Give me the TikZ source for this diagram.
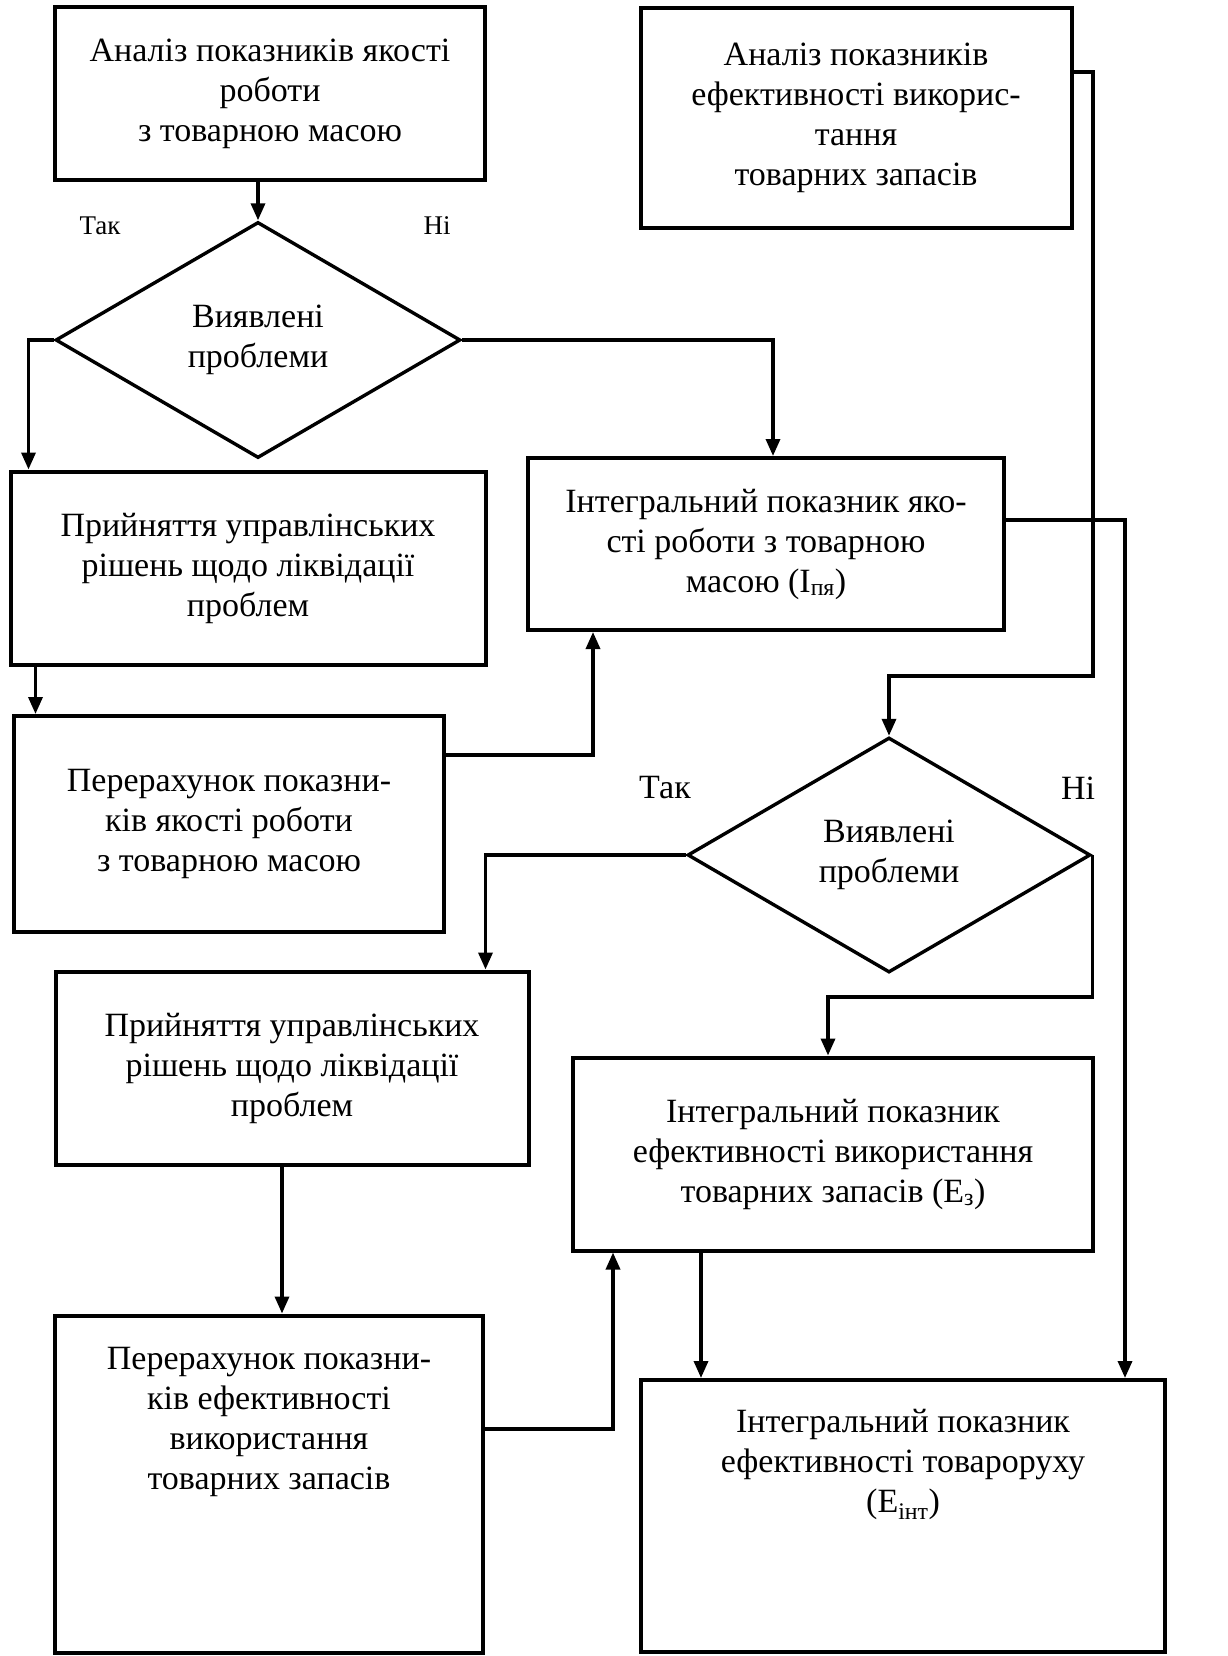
\documentclass[tikz,border=0pt]{standalone}
\usepackage{fontspec}
\setmainfont{Liberation Serif}
\usetikzlibrary{positioning,calc,shapes.geometric,arrows.meta}

\begin{document}
\begin{tikzpicture}[x=1pt,y=-1pt]
    \tikzstyle{every node}=[font=\fontsize{34}{40}\selectfont,inner sep=0]
    \tikzstyle{block}=[draw,line width=4pt,rectangle,align=center]
    \tikzstyle{decision}=[draw,line width=3.4pt,diamond,align=center]
    \tikzstyle{note}=[draw=none]
    \tikzstyle{link}=[line width=3.4pt,-{Triangle[length=17pt,width=14pt]}]
    \useasboundingbox (0,0) rectangle (1227,1656);
    {
        % left column
        \node[block,minimum width=430,minimum height=173] (a1) at (270,94)
            {Аналіз показників якості\\роботи\\з товарною масою};
        \node[decision,minimum width=405,minimum height=236] (d1) at (258,340)
            {Виявлені\\проблеми};
        \node[block,minimum width=475,minimum height=193] (b1) at (248,568)
            {Прийняття управлінських\\рішень щодо ліквідації\\проблем};
        \node[block,minimum width=430,minimum height=216] (c1) at (229,824)
            {Перерахунок показни-\\ків якості роботи\\з товарною масою};
        \node[block,minimum width=473,minimum height=193] (b2) at (292,1068)
            {Прийняття управлінських\\рішень щодо ліквідації\\проблем};
        \node[block,minimum width=428,minimum height=337] (c2) at (269,1484)
            {Перерахунок показни-\\ків ефективності\\використання\\товарних запасів\\[92pt]};

        % right column
        \node[block,minimum width=431,minimum height=220] (a2) at (856,118)
            {Аналіз показників\\ефективності викорис-\\тання\\товарних запасів};
        \node[block,minimum width=476,minimum height=172] (i1) at (766,544)
            {Інтегральний показник яко-\\сті роботи з товарною\\масою (І\textsubscript{пя})};
        \node[decision,minimum width=403,minimum height=235] (d2) at (889,855)
            {Виявлені\\проблеми};
        \node[block,minimum width=520,minimum height=193] (e3) at (833,1154)
            {Інтегральний показник\\ефективності використання\\товарних запасів (Е\textsubscript{з})};
        \node[block,minimum width=524,minimum height=272] (eint) at (903,1516)
            {Інтегральний показник\\ефективності товароруху\\(Е\textsubscript{інт})\\[70pt]};

        \node[note,font=\fontsize{27}{32}\selectfont] (yes1) at (100,226) {Так};
        \node[note,font=\fontsize{27}{32}\selectfont] (no1) at (437,226) {Ні};
        \node[note] (yes2) at (665,788) {Так};
        \node[note] (no2) at (1078,788) {Ні};

        \coordinate (b1out) at ($(b1.south west)+(27,0)$);
        \coordinate (b2out) at ($(b2.south)+(-10,0)$);
        \coordinate (e3out) at ($(e3.south west)+(130,0)$);
        \coordinate (k2) at (1093,676);
        \coordinate (k3) at (1095,997);

        \draw[link] (d1.north |- a1.south) -- (d1.north);
        \draw[link] (d1.west) -| ($(b1.north west)+(20,0)$);
        \draw[link] (d1.east) -| ($(i1.north)+(7,0)$);
        \draw[link] (b1out) -- (b1out |- c1.north);
        \draw[link] ($(c1.east)+(0,-69)$) -| ($(i1.south west)+(67,0)$);
        \draw[link] ($(a2.east)+(0,-46)$) -| (k2) -| (d2.north);
        \draw[link] ($(i1.east)+(0,-24)$) -| ($(eint.north east)+(-42,0)$);
        \draw[link] (d2.west) -| ($(b2.north east)+(-45,0)$);
        \draw[link] (d2.east) -- (d2.east |- k3) -| ($(e3.north)+(-5,0)$);
        \draw[link] (b2out) -- (b2out |- c2.north);
        \draw[link] ($(c2.east)+(0,-55)$) -| ($(e3.south west)+(42,0)$);
        \draw[link] (e3out) -- (e3out |- eint.north);
    }
\end{tikzpicture}
\end{document}
